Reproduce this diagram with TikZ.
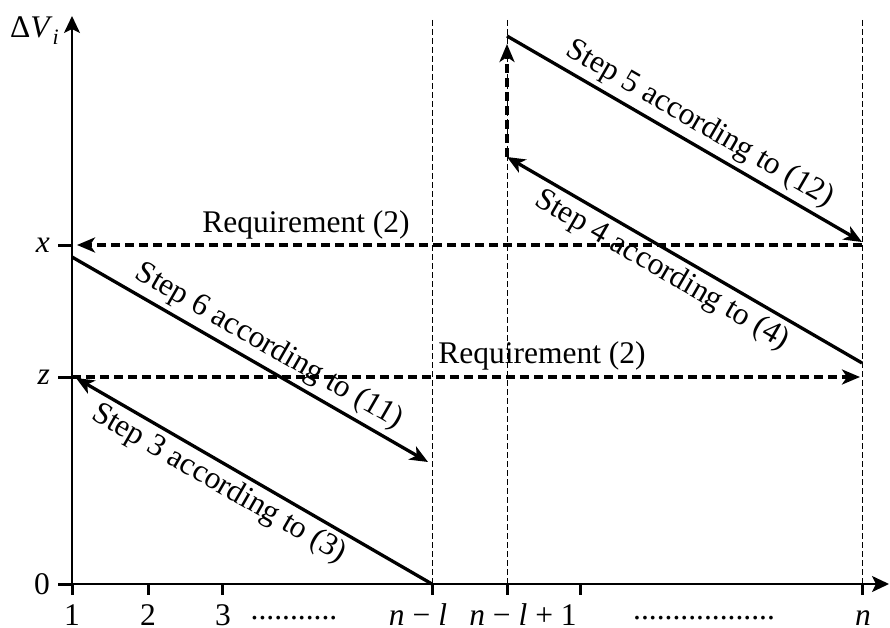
\documentclass[tikz,border=0pt]{standalone}
\usepackage{fontspec}
\setmainfont{Liberation Serif}
\usetikzlibrary{arrows.meta}
\begin{document}
\begin{tikzpicture}[x=1pt,y=-1pt,
  every node/.style={font=\fontsize{31.5}{36}\selectfont, inner sep=0pt},
  axisline/.style={line width=2pt},
  tickmark/.style={line width=3pt},
  guide/.style={line width=0.8pt, dash pattern=on 6pt off 3pt},
  stepfwd/.style={line width=3.3pt, -{Stealth[length=18pt,width=15pt,inset=5pt]}},
  stepback/.style={line width=3.3pt, {Stealth[length=18pt,width=15pt,inset=5pt]}-},
  reqline/.style={line width=3.3pt, dash pattern=on 9pt off 5pt, -{Stealth[length=18pt,width=15pt,inset=5pt]}},
  steplabel/.style={sloped, inner sep=4.5pt}
]
\useasboundingbox (0,0) rectangle (890,628);
% axes
\coordinate (O) at (72,584);
\coordinate (Ytop) at (72,16);
\coordinate (Xl) at (58,584);
\coordinate (Xr) at (889,584);
\draw[axisline, -{Stealth[length=17pt,width=16pt,inset=4pt]}] (O) -- (Ytop);
\draw[axisline, -{Stealth[length=17pt,width=16pt,inset=4pt]}] (Xl) -- (Xr);
% guides
\draw[guide] (432,20) -- (432,584);
\draw[guide] (507,20) -- (507,584);
\draw[guide] (862,20) -- (862,584);
% ticks
\foreach \t in {72,148,222,432,507,580,862} \draw[tickmark] (\t,584) -- (\t,595);
\foreach \t in {245,377,584} \draw[tickmark] (58,\t) -- (72,\t);
% axis labels
\node[anchor=base west] (dv) at (10,38) {Δ\textit{V}\raisebox{-0.22em}{\fontsize{22}{24}\selectfont\textit{i}}};
\node[anchor=base east] (lx) at (50,252) {\textit{x}};
\node[anchor=base east] (lz) at (50,384) {\textit{z}};
\node[anchor=base east] (l0) at (50,594) {0};
\node[anchor=base] (t1) at (72,625) {1};
\node[anchor=base] (t2) at (148,625) {2};
\node[anchor=base] (t3) at (223,625) {3};
\node[anchor=base] (d1) at (294,619) {...........};
\node[anchor=base] (tnl) at (418,625) {\textit{n}\hspace{0.25em}−\hspace{0.25em}\textit{l}};
\node[anchor=base] (tnl1) at (523,625) {\textit{n}\hspace{0.25em}−\hspace{0.25em}\textit{l}\hspace{0.25em}+\hspace{0.25em}1};
\node[anchor=base] (d2) at (704,619) {..................};
\node[anchor=base] (tn) at (863,625) {\textit{n}};
% step coordinates
\coordinate (s3a) at (76,378);
\coordinate (s3b) at (432,584);
\coordinate (s6a) at (72,257);
\coordinate (s6b) at (428,462);
\coordinate (s4a) at (507,157);
\coordinate (s4b) at (862,363);
\coordinate (s5a) at (507,36);
\coordinate (s5b) at (862,242);
\coordinate (up) at (507,44);
\coordinate (rxa) at (862,245);
\coordinate (rxb) at (77,245);
\coordinate (rza) at (72,377);
\coordinate (rzb) at (860,377);
% requirement lines
\draw[reqline] (rxa) -- (rxb);
\draw[reqline] (rza) -- (rzb);
\draw[reqline] (s4a) -- (up);
\node[anchor=base] (req1) at (306,232) {Requirement (2)};
\node[anchor=base] (req2) at (542,363) {Requirement (2)};
% steps
\draw[stepback] (s3a) -- node[steplabel, below, pos=0.43] (lab3) {Step 3 according to (3)} (s3b);
\draw[stepfwd] (s6a) -- node[steplabel, above, pos=0.525] (lab6) {Step 6 according to (11)} (s6b);
\draw[stepback] (s4a) -- node[steplabel, below, pos=0.465] (lab4) {Step 4 according to (4)} (s4b);
\draw[stepfwd] (s5a) -- node[steplabel, above, pos=0.514] (lab5) {Step 5 according to (12)} (s5b);
\end{tikzpicture}
\end{document}
